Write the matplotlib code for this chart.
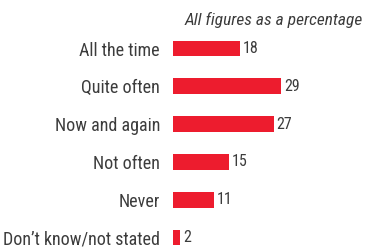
import matplotlib
matplotlib.use("Agg")
import matplotlib.pyplot as plt
from matplotlib import font_manager

categories = ["All the time", "Quite often", "Now and again", "Not often", "Never", "Don\u2019t know/not stated"]
values = [18, 29, 27, 15, 11, 2]
title = "All figures as a percentage"

names = {f.name for f in font_manager.fontManager.ttflist}
fam = "DejaVu Sans"
for cand in ["Liberation Sans Narrow", "Roboto Condensed", "Archivo Narrow", "PT Sans Narrow",
             "Fira Sans Condensed", "IBM Plex Sans Condensed", "Open Sans Condensed", "Liberation Sans"]:
    if cand in names:
        fam = cand
        break
plt.rcParams['font.family'] = [fam, 'DejaVu Sans']

W, H = 367, 248
fig = plt.figure(figsize=(W/100, H/100), dpi=100)
ax = fig.add_axes([173/W, 0, 190/W, 1])
red = "#ED1C2E"
txt = "#3c3c3c"
ypos = list(range(len(categories)))
ax.barh(ypos, values, height=0.42, color=red, left=0)
ax.set_xlim(0, 190/3.73)
top = -(50 - 1.5) / 37.8
ax.set_ylim(top + H / 37.8, top)
ax.set_yticks(ypos)
ax.set_yticklabels(categories, fontsize=13, color=txt)
ax.tick_params(axis='y', length=0, pad=9.4)
ax.set_xticks([])
for s in ax.spines.values():
    s.set_visible(False)
for y, v in zip(ypos, values):
    ax.text(v + 0.8, y, str(v), va='center', ha='left', fontsize=11.5, color=txt)
fig.text(363/W, 1 - 20/H, title, ha='right', va='center', fontsize=12.5,
         style='italic', color=txt)
fig.savefig("out.png", dpi=100)
